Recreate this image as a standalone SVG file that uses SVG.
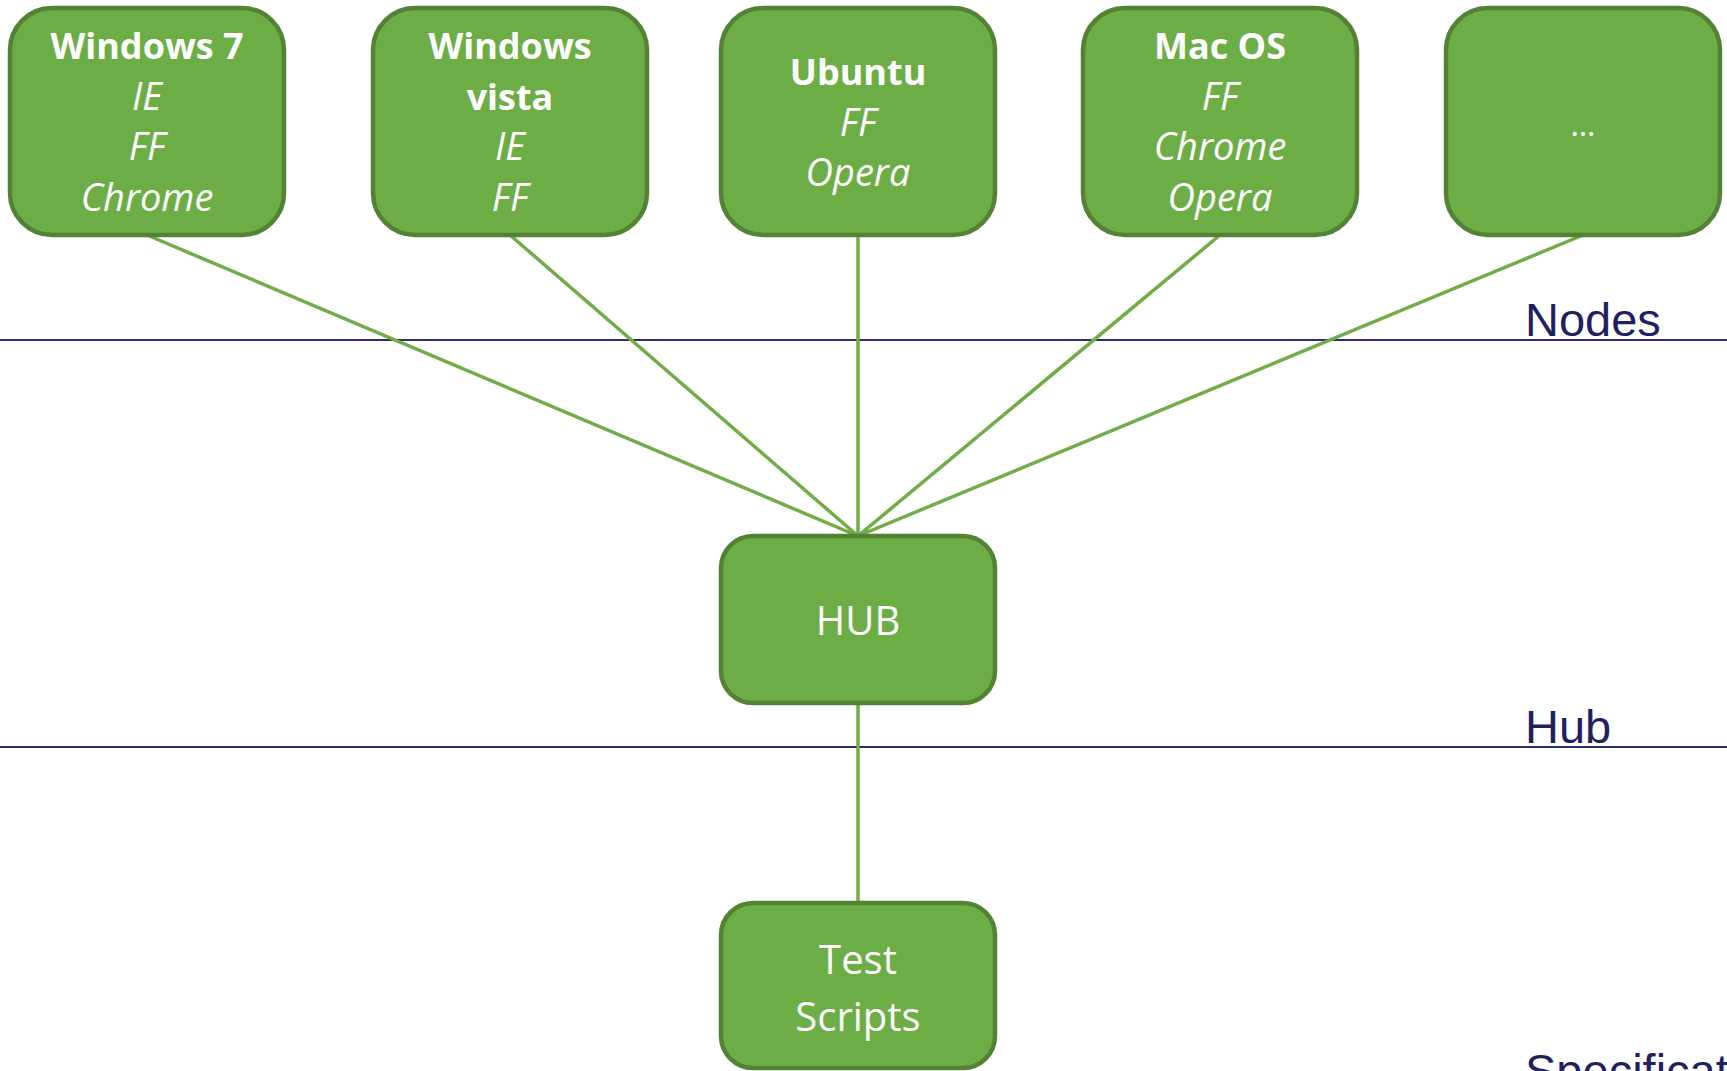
<svg xmlns="http://www.w3.org/2000/svg" width="1727" height="1071" viewBox="0 0 1727 1071">
<style>
.box{fill:#6cae45;stroke:#548235;stroke-width:4.5}
.t{font-family:"Open Sans","Noto Sans",sans-serif;fill:#ffffff;text-anchor:middle}
.b{font-weight:bold;font-size:36px}
.i{font-style:italic;font-size:38px}
.r{font-size:40px}
.lbl{font-family:"Liberation Sans",Arial,sans-serif;font-size:47px;fill:#231f5e}
.sep{stroke:#2e2b6e;stroke-width:2}
.con{stroke:#70ad47;stroke-width:3.5;fill:none}
</style>
<rect width="1727" height="1071" fill="#ffffff"/>
<g id="layers">
<line class="sep" x1="0" y1="340" x2="1727" y2="340"/>
<line class="sep" x1="0" y1="747" x2="1727" y2="747"/>
<text class="lbl" x="1525" y="336">Nodes</text>
<text class="lbl" x="1525" y="743">Hub</text>
<text class="lbl" x="1525" y="1087">Specification</text>
</g>
<g id="connectors">
<line class="con" x1="147" y1="235" x2="858" y2="536"/>
<line class="con" x1="510" y1="235" x2="858" y2="536"/>
<line class="con" x1="858" y1="235" x2="858" y2="536"/>
<line class="con" x1="1220" y1="235" x2="858" y2="536"/>
<line class="con" x1="1583" y1="235" x2="858" y2="536"/>
<line class="con" x1="858" y1="703" x2="858" y2="903"/>
</g>
<g id="win7">
<rect class="box" x="10" y="8" width="274" height="227" rx="42"/>
<text class="t b" x="147" y="59">Windows 7</text>
<text class="t i" x="147" y="110">IE</text>
<text class="t i" x="147" y="160">FF</text>
<text class="t i" x="147" y="211">Chrome</text>
</g>
<g id="vista">
<rect class="box" x="373" y="8" width="274" height="227" rx="42"/>
<text class="t b" x="510" y="59">Windows</text>
<text class="t b" x="510" y="110">vista</text>
<text class="t i" x="510" y="160">IE</text>
<text class="t i" x="510" y="211">FF</text>
</g>
<g id="ubuntu">
<rect class="box" x="721" y="8" width="274" height="227" rx="42"/>
<text class="t b" x="858" y="85">Ubuntu</text>
<text class="t i" x="858" y="136">FF</text>
<text class="t i" x="858" y="186">Opera</text>
</g>
<g id="macos">
<rect class="box" x="1083" y="8" width="274" height="227" rx="42"/>
<text class="t b" x="1220" y="59">Mac OS</text>
<text class="t i" x="1220" y="110">FF</text>
<text class="t i" x="1220" y="160">Chrome</text>
<text class="t i" x="1220" y="211">Opera</text>
</g>
<g id="more">
<rect class="box" x="1446" y="8" width="274" height="227" rx="42"/>
<text class="t" style="font-size:32px" x="1583" y="136">…</text>
</g>
<g id="hub">
<rect class="box" x="721" y="536" width="274" height="167" rx="32"/>
<text class="t r" x="858" y="635">HUB</text>
</g>
<g id="tests">
<rect class="box" x="721" y="903" width="274" height="165" rx="32"/>
<text class="t r" x="858" y="974">Test</text>
<text class="t r" x="858" y="1031">Scripts</text>
</g>
</svg>
